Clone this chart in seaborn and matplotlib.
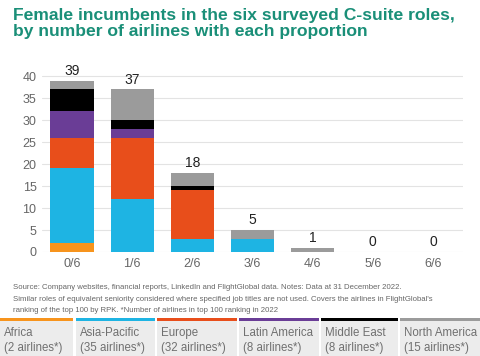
import numpy as np
import pandas as pd
import seaborn as sns
import matplotlib.pyplot as plt
from matplotlib.patches import Rectangle

# Data
categories = ["0/6", "1/6", "2/6", "3/6", "4/6", "5/6", "6/6"]
africa = [2, 0, 0, 0, 0, 0, 0]
asia_pacific = [17, 12, 3, 3, 0, 0, 0]
europe = [7, 14, 11, 0, 0, 0, 0]
latin_america = [6, 2, 0, 0, 0, 0, 0]
middle_east = [5, 2, 1, 0, 0, 0, 0]
north_america = [2, 7, 3, 2, 1, 0, 0]

regions = ["Africa", "Asia-Pacific", "Europe", "Latin America", "Middle East", "North America"]
region_counts = [2, 35, 32, 8, 8, 15]
colors = ["#f7941d", "#1eb4e3", "#e84e1b", "#6a3d96", "#000000", "#9b9b9b"]

series = [africa, asia_pacific, europe, latin_america, middle_east, north_america]

sns.set_theme(style="white")
plt.rcParams["font.family"] = ["Liberation Sans", "DejaVu Sans"]

fig = plt.figure(figsize=(4.8, 3.56), dpi=100)
ax = fig.add_axes([42 / 480, 1 - 252 / 356, (463 - 42) / 480, (252 - 70) / 356])

# stacked bars: draw cumulative totals from top region down
cum = np.cumsum(np.array(series), axis=0)
for i in range(len(series) - 1, -1, -1):
    df = pd.DataFrame({"cat": categories, "val": cum[i]})
    sns.barplot(data=df, x="cat", y="val", color=colors[i], width=0.72,
                saturation=1, linewidth=0, edgecolor="none", ax=ax, zorder=3)

totals = cum[-1]
for x, t in enumerate(totals):
    ax.text(x, t + 0.6, str(t), ha="center", va="bottom", fontsize=10, color="#222222")

ax.set_ylim(0, 41.4)
ax.set_xlim(-0.5, 6.5)
ax.set_yticks(range(0, 41, 5))
ax.yaxis.grid(True, color="#e3e3e3", linewidth=0.8, zorder=0)
ax.set_axisbelow(True)
for s in ax.spines.values():
    s.set_visible(False)
ax.tick_params(axis="both", colors="#666666", labelsize=9, length=0, pad=4)
ax.set_xlabel("")
ax.set_ylabel("")

# title
fig.text(13 / 480, 1 - 8 / 356,
         "Female incumbents in the six surveyed C-suite roles,\nby number of airlines with each proportion",
         ha="left", va="top", fontsize=12.6, fontweight="bold", color="#1a8f78", linespacing=1.1)

# source note
fig.text(13 / 480, 1 - 284 / 356,
         "Source: Company websites, financial reports, LinkedIn and FlightGlobal data. Notes: Data at 31 December 2022.\n"
         "Similar roles of equivalent seniority considered where specified job titles are not used. Covers the airlines in FlightGlobal's\n"
         "ranking of the top 100 by RPK. *Number of airlines in top 100 ranking in 2022",
         ha="left", va="top", fontsize=5.6, color="#666666", linespacing=1.95)

# legend boxes along the bottom
box_lefts = [0, 76, 157, 239, 321, 400]
box_rights = [73, 155, 237, 319, 398, 480]
for i, (name, n, c) in enumerate(zip(regions, region_counts, colors)):
    x0 = box_lefts[i] / 480
    w = (box_rights[i] - box_lefts[i]) / 480
    fig.patches.append(Rectangle((x0, 0), w, 35 / 356, transform=fig.transFigure,
                                 facecolor="#ececec", edgecolor="none"))
    fig.patches.append(Rectangle((x0, 35 / 356), w, 3 / 356, transform=fig.transFigure,
                                 facecolor=c, edgecolor="none"))
    fig.text(x0 + 4 / 480, 29 / 356, f"{name}\n({n} airlines*)", ha="left", va="top",
             fontsize=8.3, color="#707070", linespacing=1.35)

fig.savefig("out.png", dpi=100)
